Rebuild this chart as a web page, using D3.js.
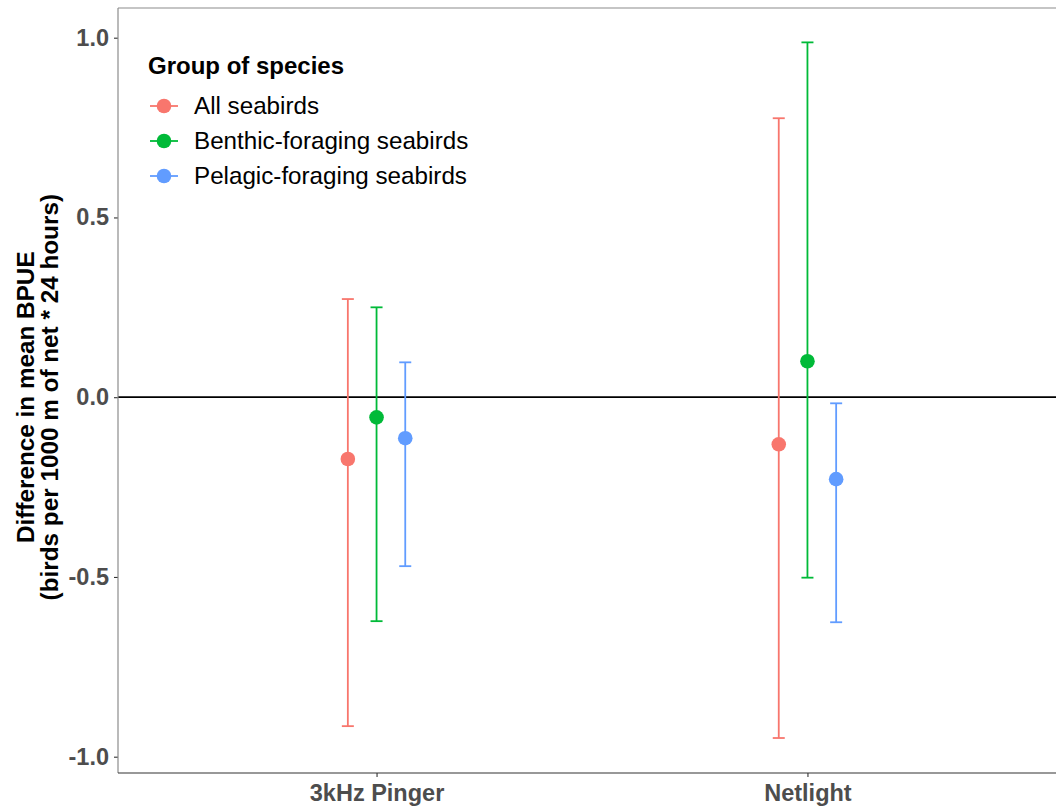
<!DOCTYPE html>
<html>
<head>
<meta charset="utf-8">
<script src="https://cdn.jsdelivr.net/npm/d3@7"></script>
<style>
  body { margin: 0; background: #fff; }
  text { font-family: Arial, "Liberation Sans", sans-serif; }
</style>
</head>
<body>
<div id="container"></div>
<script>
// Kategorien und Gruppen
const treatments = ["3kHz Pinger", "Netlight"];
const groups = ["All seabirds", "Benthic-foraging seabirds", "Pelagic-foraging seabirds"];
const colours = ["#F8766D", "#00BA38", "#619CFF"];

// Mittelwerte und Konfidenzintervalle (pro Treatment, Reihenfolge wie groups)
const pingerMean = [-0.172, -0.056, -0.114];
const pingerLow = [-0.915, -0.623, -0.470];
const pingerHigh = [0.273, 0.250, 0.097];
const netlightMean = [-0.131, 0.100, -0.228];
const netlightLow = [-0.948, -0.502, -0.626];
const netlightHigh = [0.776, 0.987, -0.017];

const yTicks = [1.0, 0.5, 0.0, -0.5, -1.0];

const rows = [];
groups.forEach((g, i) => {
    rows.push({treatment: treatments[0], group: g, mean: pingerMean[i], low: pingerLow[i], high: pingerHigh[i]});
    rows.push({treatment: treatments[1], group: g, mean: netlightMean[i], low: netlightLow[i], high: netlightHigh[i]});
});

const W = 1056, H = 807;
const panelLeft = 118, panelTop = 8, panelBottom = 773, panelRight = 1066;

const svg = d3.select("#container").append("svg")
    .attr("width", W).attr("height", H);

// Skalen
const y = d3.scaleLinear().domain([-1.0, 1.0]).range([756.7, 37.7]);
const x = d3.scalePoint().domain(treatments).range([panelLeft, panelRight]).padding(0.6);
const dodge = d3.scalePoint().domain(groups).range([-28.7, 28.7]);
const colour = d3.scaleOrdinal().domain(groups).range(colours);

// Panelrahmen
svg.append("line").attr("x1", panelLeft).attr("x2", W).attr("y1", panelTop).attr("y2", panelTop)
    .attr("stroke", "#8c8c8c").attr("stroke-width", 1.2);

// Nulllinie
svg.append("line").attr("x1", panelLeft).attr("x2", W).attr("y1", y(0)).attr("y2", y(0))
    .attr("stroke", "#000").attr("stroke-width", 1.8);

// Y-Achse (Bindestrich statt Unicode-Minus wie im Original)
const yAxis = svg.append("g").attr("transform", `translate(${panelLeft},0)`)
    .call(d3.axisLeft(y).tickValues(yTicks)
        .tickFormat(d => d3.format(".1f")(d).replace("\u2212", "-"))
        .tickSize(4).tickPadding(5));
yAxis.select(".domain").remove();
svg.append("line").attr("x1", panelLeft).attr("x2", panelLeft).attr("y1", panelTop).attr("y2", panelBottom)
    .attr("stroke", "#8c8c8c").attr("stroke-width", 1.2);

// X-Achse
const xAxis = svg.append("g").attr("transform", `translate(0,${panelBottom})`)
    .call(d3.axisBottom(x).tickSize(4).tickPadding(5));
xAxis.select(".domain").remove();
svg.append("line").attr("x1", panelLeft).attr("x2", W).attr("y1", panelBottom).attr("y2", panelBottom)
    .attr("stroke", "#333").attr("stroke-width", 1.2);

svg.selectAll(".tick line").attr("stroke", "#333").attr("stroke-width", 1.1);
svg.selectAll(".tick text")
    .attr("fill", "#4d4d4d")
    .style("font-size", "23.5px")
    .style("font-weight", "bold");
xAxis.selectAll(".tick text").attr("dy", "0.8em");

// Achsentitel
const yTitle = svg.append("text")
    .attr("transform", `translate(0,${y(0.0)}) rotate(-90)`)
    .attr("text-anchor", "middle")
    .style("font-size", "24.3px")
    .style("font-weight", "bold")
    .attr("fill", "#000");
yTitle.append("tspan").attr("x", 0).attr("y", 34).text("Difference in mean BPUE");
yTitle.append("tspan").attr("x", 0).attr("y", 58).text("(birds per 1000 m of net * 24 hours)");

// Fehlerbalken
const bars = svg.append("g").selectAll("g.bar")
    .data(rows).enter().append("g")
    .attr("transform", d => `translate(${x(d.treatment) + dodge(d.group)},0)`);

bars.append("line")
    .attr("y1", d => y(d.low)).attr("y2", d => y(d.high))
    .attr("stroke", d => colour(d.group)).attr("stroke-width", 1.8);
bars.append("line")
    .attr("x1", -6).attr("x2", 6)
    .attr("y1", d => y(d.low)).attr("y2", d => y(d.low))
    .attr("stroke", d => colour(d.group)).attr("stroke-width", 1.8);
bars.append("line")
    .attr("x1", -6).attr("x2", 6)
    .attr("y1", d => y(d.high)).attr("y2", d => y(d.high))
    .attr("stroke", d => colour(d.group)).attr("stroke-width", 1.8);
bars.append("circle")
    .attr("cy", d => y(d.mean)).attr("r", 7.3)
    .attr("fill", d => colour(d.group));

// Legende
const legend = svg.append("g").attr("transform", "translate(148,0)");
legend.append("text").attr("x", 0).attr("y", 74)
    .style("font-size", "24px").style("font-weight", "bold")
    .text("Group of species");
const item = legend.selectAll("g.item").data(groups).enter().append("g")
    .attr("transform", (d, i) => `translate(0,${106 + i * 35})`);
item.append("line").attr("x1", 2).attr("x2", 30)
    .attr("stroke", d => colour(d)).attr("stroke-width", 1.8);
item.append("circle").attr("cx", 16).attr("r", 7.3).attr("fill", d => colour(d));
item.append("text").attr("x", 46).attr("dy", "0.35em")
    .style("font-size", "24.2px").attr("fill", "#000")
    .text(d => d);
</script>
</body>
</html>
